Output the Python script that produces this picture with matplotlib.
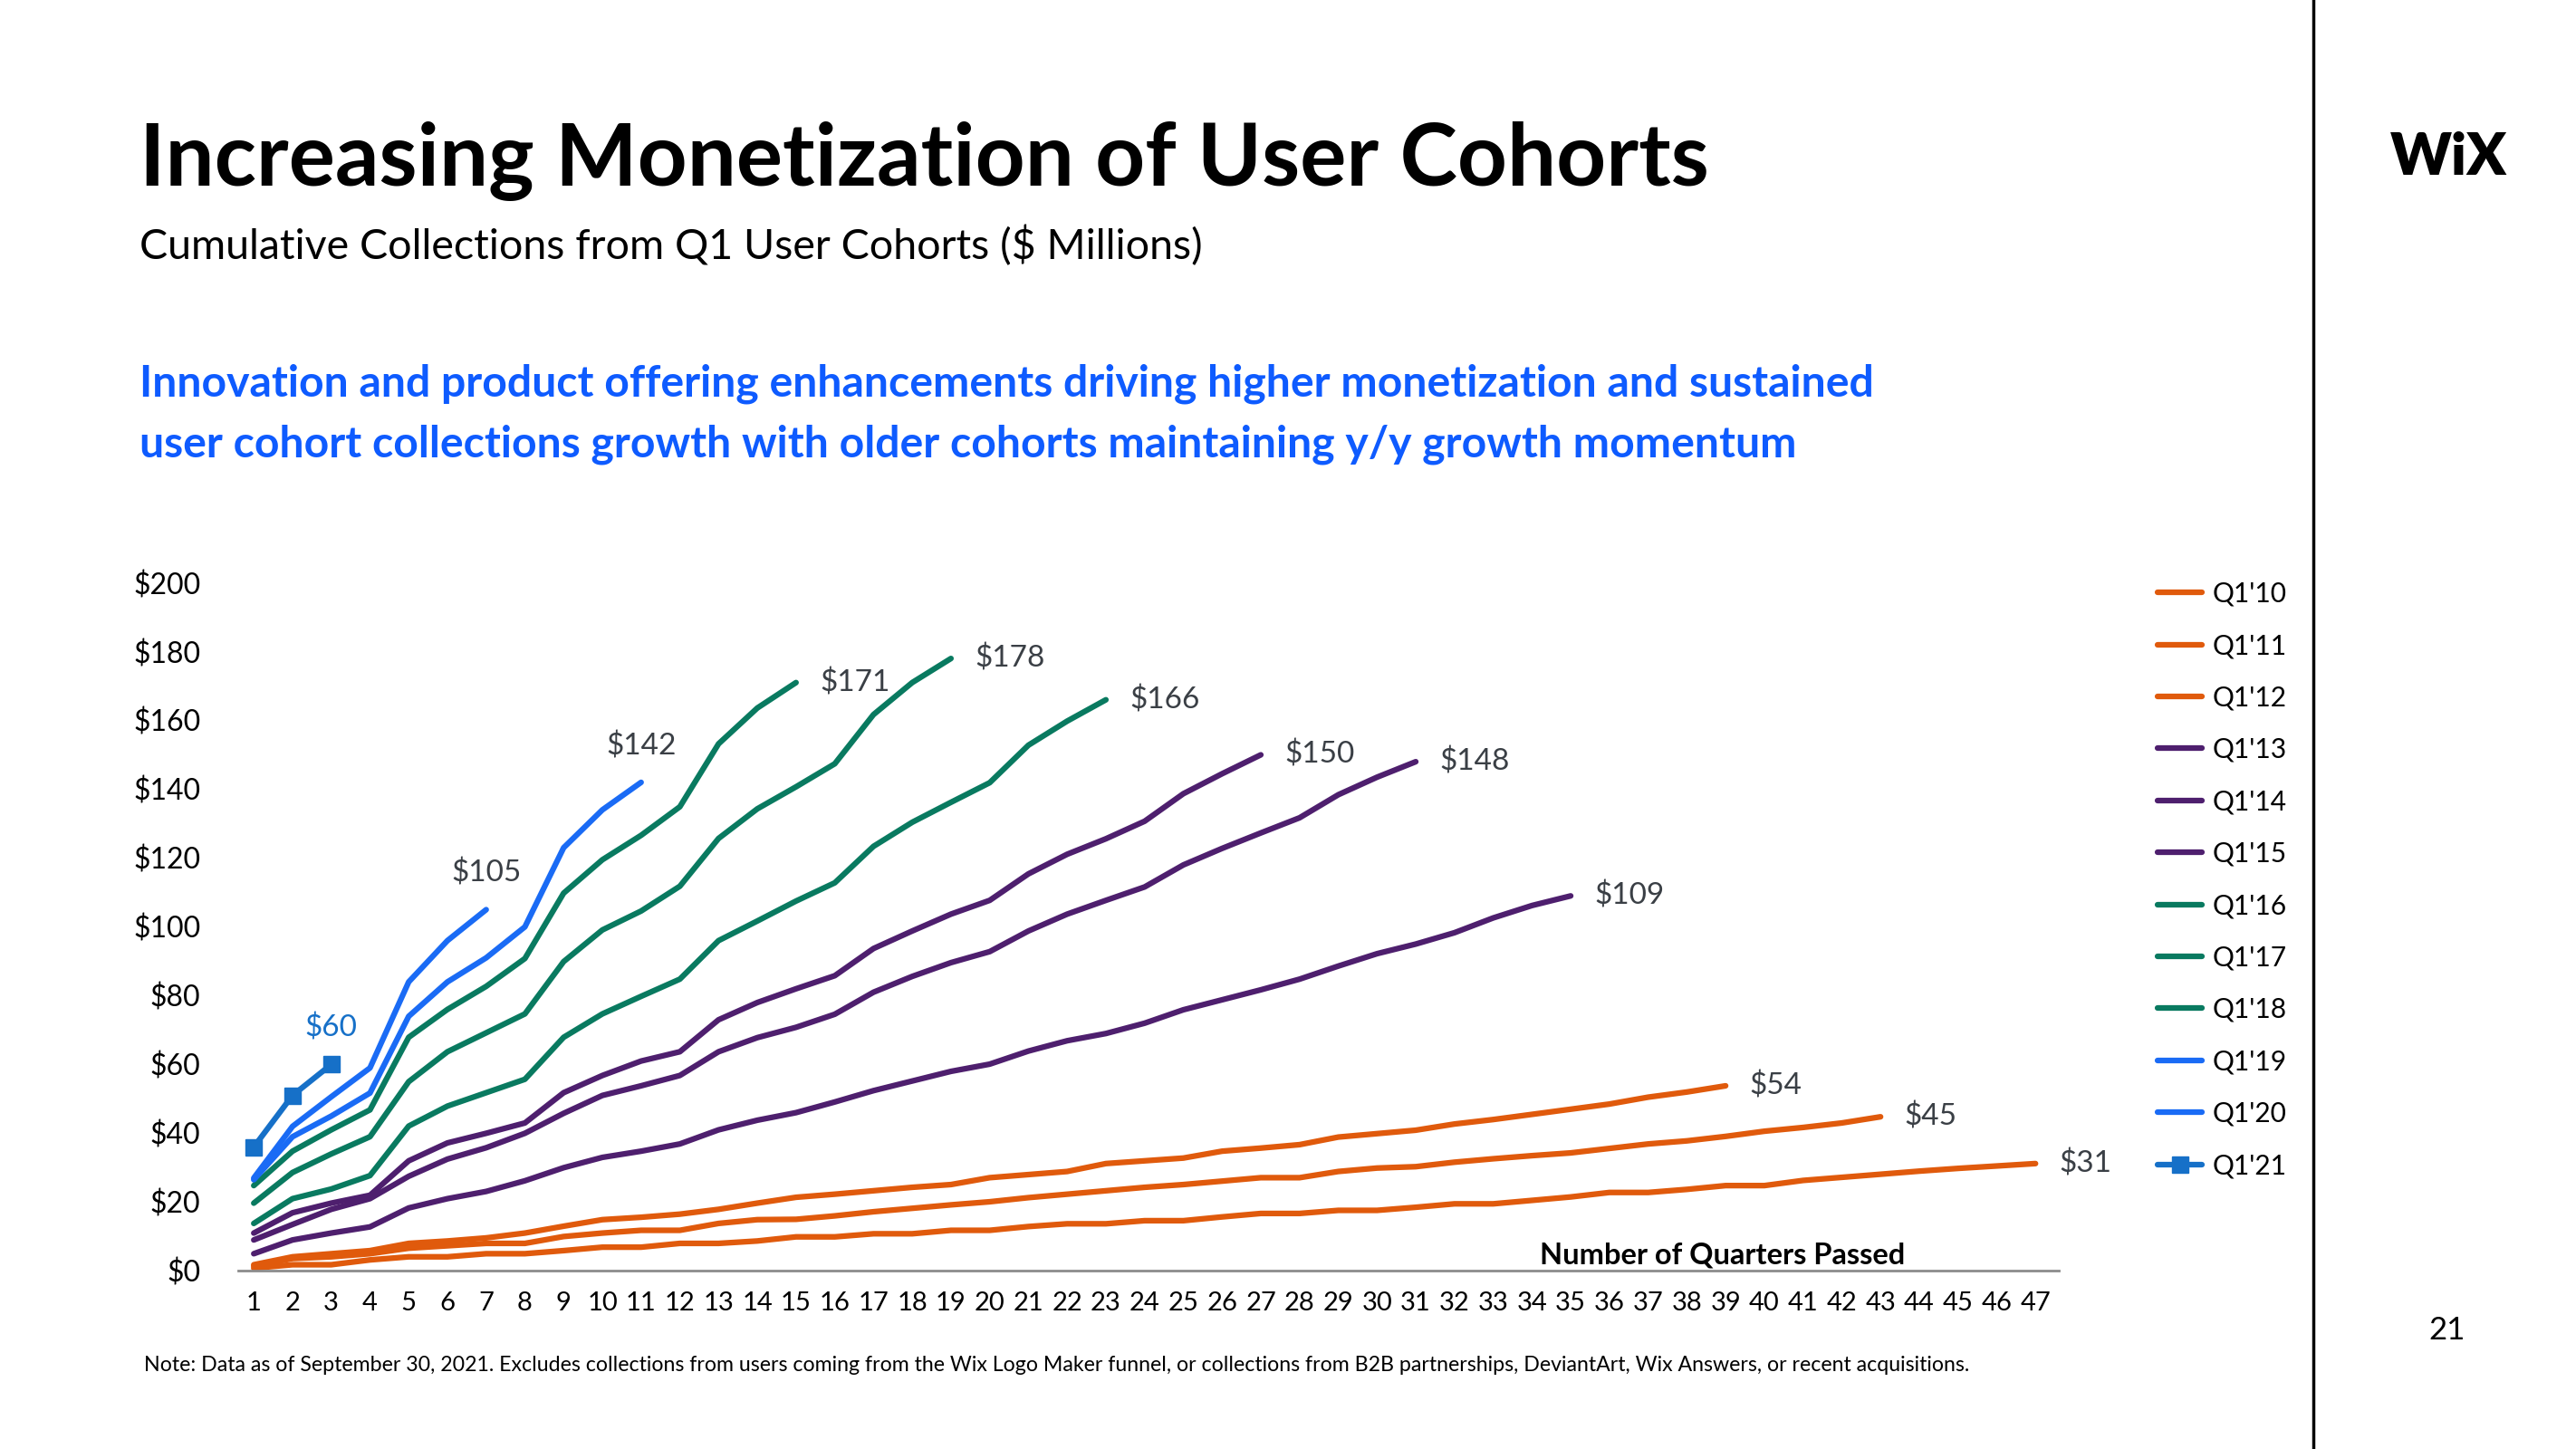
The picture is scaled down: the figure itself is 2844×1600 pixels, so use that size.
import matplotlib
matplotlib.use("Agg")
import matplotlib.pyplot as plt
from matplotlib.lines import Line2D

plt.rcParams['font.family'] = ['Lato', 'DejaVu Sans']

# cumulative collections ($M) per quarter passed
q1_10 = [0.8, 1.8, 1.8, 3.2, 4.1, 4.1, 5, 5, 5.9, 6.9, 6.9, 8, 8, 8.7,
         9.9, 9.9, 10.8, 10.8, 11.8, 11.8, 12.9, 13.7, 13.7, 14.6, 14.6, 15.7, 16.7, 16.7,
         17.6, 17.6, 18.5, 19.5, 19.5, 20.5,
         21.5, 22.8, 22.8, 23.7, 24.8, 24.8, 26.3, 27.2, 28.1, 29, 29.8, 30.5, 31.2]
q1_11 = [1.4, 3.6, 4.1, 5, 6.6, 7.3, 8, 8, 10, 11, 11.8, 11.8, 13.8, 14.9,
         15, 16, 17.2, 18.2, 19.2, 20.1, 21.3, 22.3, 23.3, 24.3, 25.1, 26.1, 27.1, 27.1,
         28.9, 29.9, 30.3, 31.6, 32.6, 33.5,
         34.3, 35.6, 36.9, 37.8, 39.1, 40.6, 41.7, 43, 44.8]
q1_12 = [1.8, 4.1, 5, 5.9, 8, 8.7, 9.6, 11, 13, 14.9, 15.6, 16.5, 17.9, 19.7,
         21.4, 22.3, 23.3, 24.3, 25.1, 27.1, 28, 28.9, 31.2, 32, 32.8, 34.8, 35.7, 36.7,
         38.9, 39.9, 40.9, 42.7, 44, 45.5,
         47, 48.5, 50.5, 52, 53.8]
q1_13 = [5, 9, 11, 12.8, 18.3, 21, 23.1, 26.2, 30, 33, 34.8, 36.9, 41, 43.8,
         46, 49.1, 52.4, 55.2, 58, 60.1, 63.9, 66.9, 69, 72, 75.9, 78.8, 81.7, 84.8,
         88.6, 92.2, 95, 98.3, 102.6, 106.2, 109]
q1_14 = [9, 13.5, 17.9, 21, 27.5, 32.5, 35.8, 40, 45.8, 51, 53.8, 56.8, 63.7, 67.8,
         70.8, 74.6, 81, 85.6, 89.6, 92.8, 98.8, 103.7, 107.7, 111.6, 118, 122.8, 127.3,
         131.7, 138.4, 143.5, 148]
q1_15 = [11, 16.9, 19.7, 22, 32, 37.2, 40, 43, 51.8, 56.8, 61, 63.7, 73, 78,
         82, 85.8, 93.7, 98.8, 103.7, 107.7, 115.4, 121.1, 125.6, 130.7, 138.7, 144.5, 150]
q1_16 = [13.8, 21, 23.8, 27.7, 42.1, 47.9, 51.8, 55.7, 67.9, 74.7, 79.8, 84.8, 96,
         101.7, 107.5, 112.8, 123.4, 130.4, 136.2, 141.9, 152.8, 159.8, 166]
q1_17 = [19.7, 28.6, 34, 39, 55, 63.7, 69.2, 74.7, 89.9, 99.1, 104.6, 111.8, 125.7,
         134.3, 140.7, 147.4, 161.7, 171, 178]
q1_18 = [24.8, 34.8, 41, 46.8, 67.9, 76, 82.7, 90.8, 109.8, 119.5, 126.6, 134.9, 153.2,
         163.6, 171]
q1_19 = [26.5, 39, 45, 51.7, 74, 84, 91, 100, 123, 134, 142]
q1_20 = [27, 42, 50.6, 59, 84, 96, 105]
q1_21 = [36, 51, 60]

cohorts = ["Q1'10", "Q1'11", "Q1'12", "Q1'13", "Q1'14", "Q1'15",
           "Q1'16", "Q1'17", "Q1'18", "Q1'19", "Q1'20", "Q1'21"]
end_labels = ["$31", "$45", "$54", "$109", "$148", "$150",
              "$166", "$178", "$171", "$142", "$105", "$60"]
series = [q1_10, q1_11, q1_12, q1_13, q1_14, q1_15,
          q1_16, q1_17, q1_18, q1_19, q1_20, q1_21]

orange = '#E05A0C'
purple = '#4E1F6E'
green = '#097A60'
blue = '#1A6BF5'
blue21 = '#1670C8'
colors = [orange] * 3 + [purple] * 3 + [green] * 3 + [blue] * 2 + [blue21]

fig = plt.figure(figsize=(28.44, 16), dpi=100)
ax = fig.add_axes([0.0925, 0.1229, 0.7067, 0.4749])

handles = []
for i, (name, vals) in enumerate(zip(cohorts, series)):
    xs = list(range(1, len(vals) + 1))
    if name == "Q1'21":
        h, = ax.plot(xs, vals, color=colors[i], lw=4.5, marker='s', markersize=13,
                     solid_capstyle='round')
    else:
        h, = ax.plot(xs, vals, color=colors[i], lw=4.5, solid_capstyle='round')
    handles.append(h)

    # value label at the end of each line
    if i >= 9:
        lc = blue21 if name == "Q1'21" else '#3a3f45'
        ax.annotate(end_labels[i], xy=(xs[-1], vals[-1]), xytext=(0, 29),
                    textcoords='offset points', ha='center', va='center',
                    fontsize=24, color=lc)
    else:
        ax.annotate(end_labels[i], xy=(xs[-1], vals[-1]), xytext=(19, 0),
                    textcoords='offset points', ha='left', va='center',
                    fontsize=24, color='#3a3f45')

ax.set_xlim(0.6, 47.6)
ax.set_ylim(0, 200)
ax.set_xticks(range(1, 48))
ax.set_yticks(range(0, 201, 20))
ax.set_yticklabels(['$%d' % v for v in range(0, 201, 20)])
ax.tick_params(axis='y', length=0, pad=30, labelsize=23)
ax.tick_params(axis='x', length=0, pad=16, labelsize=21)
for s in ['top', 'right', 'left']:
    ax.spines[s].set_visible(False)
ax.spines['bottom'].set_color('#8c8c8c')
ax.spines['bottom'].set_linewidth(2)

fig.text(0.5977, 0.134, 'Number of Quarters Passed', fontsize=23.5, fontweight='bold',
         va='center', ha='left')

fig.legend(handles, cohorts, loc='upper left', bbox_to_anchor=(0.8376, 0.599),
           frameon=False, fontsize=21.5, handlelength=1.64, handletextpad=0.4,
           labelspacing=0.985, borderpad=0, borderaxespad=0)

# header text
fig.text(0.054, 0.889, 'Increasing Monetization of User Cohorts', fontsize=69,
         fontweight='bold', va='center', ha='left')
fig.text(0.054, 0.830, 'Cumulative Collections from Q1 User Cohorts ($ Millions)',
         fontsize=33.5, va='center', ha='left')
fig.text(0.054, 0.735, 'Innovation and product offering enhancements driving higher '
         'monetization and sustained', fontsize=34.7, fontweight='bold', color='#0E5BFF',
         va='center', ha='left')
fig.text(0.054, 0.693, 'user cohort collections growth with older cohorts maintaining '
         'y/y growth momentum', fontsize=34.7, fontweight='bold', color='#0E5BFF',
         va='center', ha='left')

fig.text(0.056, 0.058, 'Note: Data as of September 30, 2021. Excludes collections from users '
         'coming from the Wix Logo Maker funnel, or collections from B2B partnerships, '
         'DeviantArt, Wix Answers, or recent acquisitions.', fontsize=16.7,
         va='center', ha='left')

fig.add_artist(Line2D([0.898, 0.898], [0, 1], transform=fig.transFigure,
                      color='black', lw=2.5))
fig.text(0.9505, 0.891, 'WiX', fontsize=46, fontweight='heavy', ha='center', va='center')
fig.text(0.950, 0.082, '21', fontsize=25, ha='center', va='center')

fig.savefig('out.png', dpi=100, facecolor='white')
